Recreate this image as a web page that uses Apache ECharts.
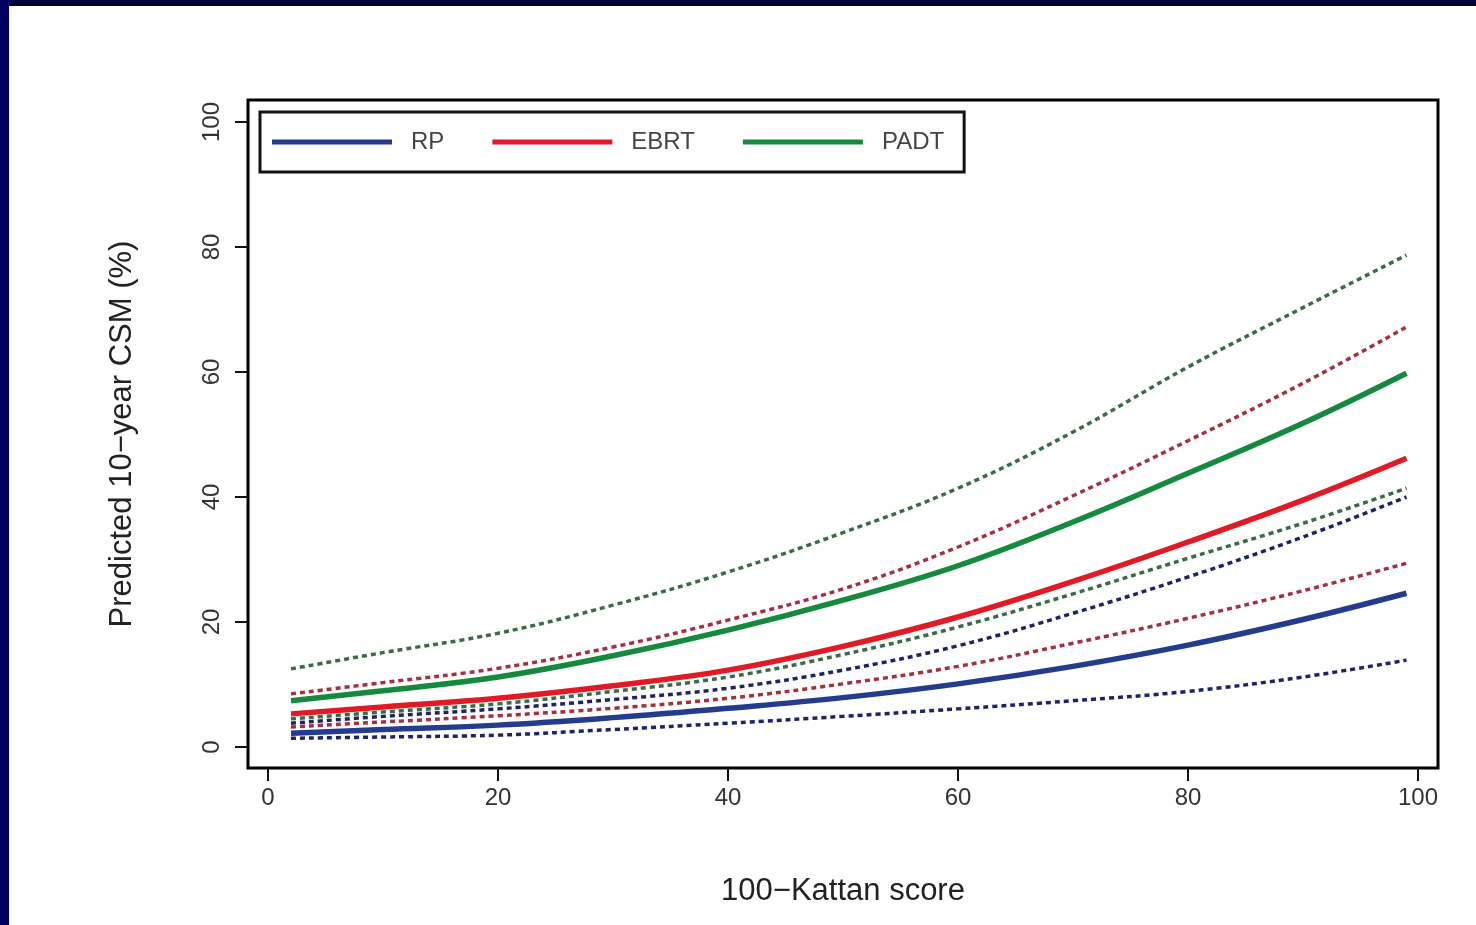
<!DOCTYPE html>
<html>
<head>
<meta charset="utf-8">
<title>Predicted 10-year CSM</title>
<script src="https://cdn.jsdelivr.net/npm/echarts@6/dist/echarts.min.js"></script>
<style>
  html, body { margin: 0; padding: 0; background: #fff; }
  #main { width: 1476px; height: 925px; }
</style>
</head>
<body>
<div id="main"></div>
<script>
// 100-Kattan score on x, predicted CSM (%) on y
const xs = [2, 10, 20, 30, 40, 50, 60, 70, 80, 90, 99];

// RP (blue)
const rpFit  = [2.2, 2.8, 3.5, 4.7, 6.2, 7.9, 10.1, 12.9, 16.3, 20.4, 24.6];
const rpLow  = [1.4, 1.6, 1.9, 2.8, 3.8, 4.9, 6.1, 7.4, 8.9, 11.2, 13.9];
const rpHigh = [3.8, 4.9, 6.1, 7.6, 9.4, 12.3, 16.2, 21.4, 27.2, 33.6, 40.0];

// EBRT (red)
const ebrtFit  = [5.3, 6.4, 7.8, 9.8, 12.3, 16.1, 20.8, 26.5, 32.8, 39.5, 46.2];
const ebrtLow  = [3.2, 4.0, 5.0, 6.2, 7.8, 10.1, 12.9, 16.6, 20.6, 25.0, 29.4];
const ebrtHigh = [8.5, 10.3, 12.6, 16.0, 20.3, 25.3, 32.0, 40.2, 49.0, 58.2, 67.2];

// PADT (green)
const padtFit  = [7.4, 9.0, 11.2, 14.6, 18.7, 23.5, 29.0, 36.0, 43.8, 51.8, 59.8];
const padtLow  = [4.5, 5.6, 6.9, 8.9, 11.2, 14.8, 19.2, 24.5, 30.2, 35.8, 41.4];
const padtHigh = [12.5, 15.1, 18.2, 22.7, 28.0, 34.3, 41.4, 50.4, 60.8, 70.3, 78.7];

const tickValues = [0, 20, 40, 60, 80, 100];

const tickFont = "'Liberation Sans', Arial, sans-serif";
const titleFont = "'Liberation Sans', Arial, sans-serif";

function pairs(ys) {
    return xs.map((x, i) => [x, ys[i]]);
}

function solid(name, ys, color) {
    return {
        name: name,
        type: 'line',
        data: pairs(ys),
        smooth: 0.4,
        showSymbol: false,
        z: 3,
        lineStyle: { color: color, width: 5.5 },
        itemStyle: { color: color }
    };
}

function dotted(name, ys, color) {
    return {
        name: name,
        type: 'line',
        data: pairs(ys),
        smooth: 0.4,
        showSymbol: false,
        z: 2,
        lineStyle: { color: color, width: 3.5, type: [5, 4] },
        itemStyle: { color: color }
    };
}

let myChart = echarts.init(document.getElementById('main'));

let option = {
    backgroundColor: '#ffffff',
    animation: false,
    graphic: [
        // slide frame
        { type: 'rect', left: 0, top: 0, shape: { width: 1476, height: 6 }, style: { fill: '#00003a' }, z: 0 },
        { type: 'rect', left: 0, top: 0, shape: { width: 9, height: 925 }, style: { fill: '#000060' }, z: 0 }
    ],
    grid: {
        left: 248,
        right: 38,
        top: 100,
        bottom: 157,
        containLabel: false,
        show: true,
        borderColor: '#000',
        borderWidth: 3,
        backgroundColor: 'transparent'
    },
    legend: {
        data: ['RP', 'EBRT', 'PADT'],
        left: 260,
        top: 112,
        orient: 'horizontal',
        icon: 'rect',
        itemWidth: 120,
        itemHeight: 5,
        itemGap: 48,
        padding: [18, 20, 18, 12],
        borderColor: '#111',
        borderWidth: 3,
        backgroundColor: '#fff',
        textStyle: {
            fontFamily: tickFont,
            fontSize: 24,
            color: '#444',
            padding: [0, 0, 0, 14]
        }
    },
    xAxis: {
        type: 'value',
        min: -1.739,
        max: 101.739,
        name: '100\u2212Kattan score',
        nameLocation: 'middle',
        nameGap: 108,
        nameTextStyle: { fontFamily: titleFont, fontSize: 31, color: '#222' },
        splitLine: { show: false },
        axisLine: { show: false, onZero: false },
        axisTick: {
            show: true,
            customValues: tickValues,
            length: 13,
            lineStyle: { color: '#111', width: 2 }
        },
        axisLabel: {
            customValues: tickValues,
            margin: 18,
            fontFamily: tickFont,
            fontSize: 24,
            color: '#333'
        }
    },
    yAxis: {
        type: 'value',
        min: -3.36,
        max: 103.52,
        name: 'Predicted 10\u2212year CSM (%)',
        nameLocation: 'middle',
        nameRotate: 90,
        nameGap: 110,
        nameTextStyle: { fontFamily: titleFont, fontSize: 31, color: '#222' },
        splitLine: { show: false },
        axisLine: { show: false, onZero: false },
        axisTick: {
            show: true,
            customValues: tickValues,
            length: 13,
            lineStyle: { color: '#111', width: 2 }
        },
        axisLabel: {
            customValues: tickValues,
            rotate: 90,
            margin: 24,
            fontFamily: tickFont,
            fontSize: 24,
            color: '#333'
        }
    },
    series: [
        dotted('PADT upper', padtHigh, '#3b6a47'),
        dotted('PADT lower', padtLow, '#3b6a47'),
        dotted('EBRT upper', ebrtHigh, '#a3303f'),
        dotted('EBRT lower', ebrtLow, '#a3303f'),
        dotted('RP upper', rpHigh, '#1f2266'),
        dotted('RP lower', rpLow, '#1f2266'),
        solid('RP', rpFit, '#243b8e'),
        solid('EBRT', ebrtFit, '#e01b25'),
        solid('PADT', padtFit, '#15893d')
    ]
};

myChart.setOption(option);
</script>
</body>
</html>
